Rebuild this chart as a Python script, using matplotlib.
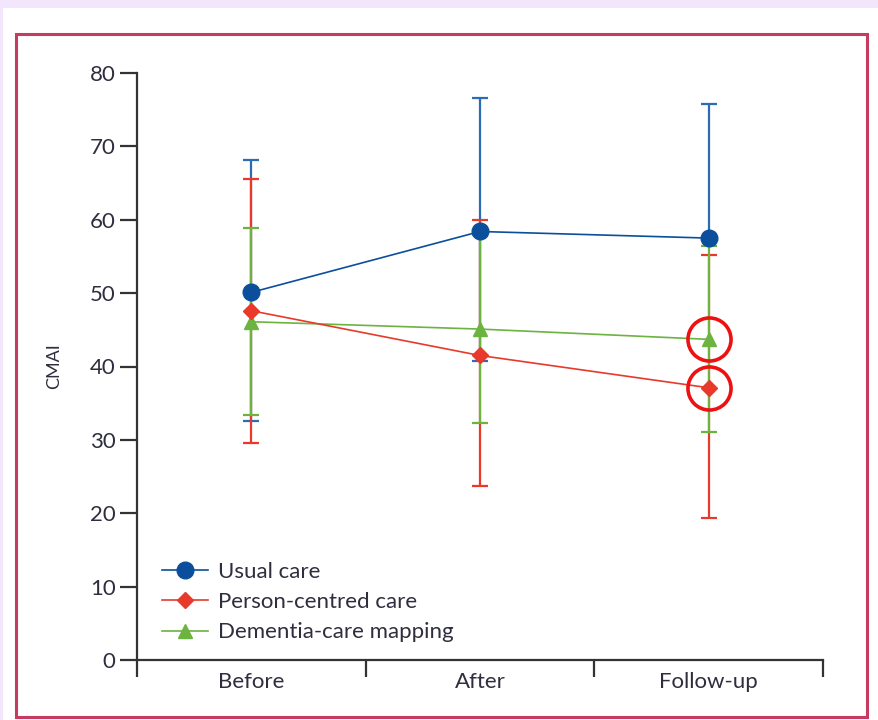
import matplotlib
matplotlib.use("Agg")
import matplotlib.pyplot as plt
from matplotlib.patches import Rectangle

# CMAI scores (mean with error bar ends)
phases = ["Before", "After", "Follow-up"]

usual_mean = [50.1, 58.4, 57.5]
usual_upper = [68.1, 76.6, 75.8]
usual_lower = [32.6, 40.8, 57.5]   # no lower bar visible at follow-up

person_mean = [47.6, 41.5, 37.1]
person_upper = [65.6, 59.9, 55.2]
person_lower = [29.6, 23.7, 19.3]

dcm_mean = [46.1, 45.1, 43.7]
dcm_upper = [58.9, 57.9, 56.4]
dcm_lower = [33.4, 32.3, 31.1]

# points ringed in red at follow-up
ringed = [dcm_mean[2], person_mean[2]]

BLUE = "#0b4f9c"
BLUE_BAR = "#2b6cb3"
RED = "#e8392b"
GREEN = "#6cb33f"
TXT = "#2e2e3e"

plt.rcParams['font.family'] = ['Lato', 'DejaVu Sans']

fig = plt.figure(figsize=(8.79, 7.2), dpi=100, facecolor="#f3e6fc")
fig.patches.append(Rectangle((3 / 879, 0), 1, 712 / 720, transform=fig.transFigure,
                             facecolor="white", edgecolor="none", zorder=-10))
fig.patches.append(Rectangle((16 / 879, 3 / 720), 851 / 879, 683 / 720, transform=fig.transFigure,
                             facecolor="none", edgecolor="#c63b60", linewidth=2.2, zorder=-5))

ax = fig.add_axes([137 / 879, 60 / 720, 686 / 879, 587 / 720])
ax.set_facecolor("none")
ax.set_zorder(2)

x = [0.5, 1.5, 2.5]


def err(mean, lower, upper):
    return [[m - l for m, l in zip(mean, lower)], [u - m for m, u in zip(mean, upper)]]


ax.errorbar(x, usual_mean, yerr=err(usual_mean, usual_lower, usual_upper), fmt="none",
            ecolor=BLUE_BAR, elinewidth=1.6, capsize=6, capthick=1.6, zorder=2)
ax.errorbar(x, person_mean, yerr=err(person_mean, person_lower, person_upper), fmt="none",
            ecolor=RED, elinewidth=1.6, capsize=6, capthick=1.6, zorder=3)
ax.errorbar(x, dcm_mean, yerr=err(dcm_mean, dcm_lower, dcm_upper), fmt="none",
            ecolor=GREEN, elinewidth=1.6, capsize=6, capthick=1.6, zorder=4)

ax.plot(x, dcm_mean, "-^", color=GREEN, lw=1.2, markersize=10, zorder=5,
        label="Dementia-care mapping")
ax.plot(x, person_mean, "-D", color=RED, lw=1.2, markersize=8, zorder=6,
        label="Person-centred care")
ax.plot(x, usual_mean, "-o", color=BLUE, lw=1.2, markersize=12, zorder=7,
        label="Usual care")

ax.plot([x[2]] * len(ringed), ringed, "o", markersize=31, markerfacecolor="none",
        markeredgecolor="#ee1111", markeredgewidth=2.6, zorder=8, clip_on=False)

ax.set_xlim(0, 3)
ax.set_ylim(0, 80)
ax.set_yticks(range(0, 81, 10))
ax.set_xticks([0, 1, 2, 3])
ax.set_xticklabels([])
ax.set_xticks(x, minor=True)
ax.set_xticklabels(phases, minor=True)

for side in ["top", "right"]:
    ax.spines[side].set_visible(False)
for side in ["left", "bottom"]:
    ax.spines[side].set_color("#333333")
    ax.spines[side].set_linewidth(1.6)

ax.tick_params(axis="y", which="major", length=12.5, width=1.6, color="#333333",
               labelsize=16, labelcolor=TXT, pad=3)
ax.tick_params(axis="x", which="major", length=12, width=1.6, color="#333333")
ax.tick_params(axis="x", which="minor", length=0, labelsize=16, labelcolor=TXT, pad=9)

ax.set_ylabel("CMAI", fontsize=13, color=TXT)
ax.yaxis.set_label_coords(-0.109, 0.5)

handles, labels = ax.get_legend_handles_labels()
order = [2, 1, 0]
ax.legend([handles[i] for i in order], [labels[i] for i in order], loc="lower left",
          bbox_to_anchor=(0.036, 0.03), frameon=False, fontsize=16, labelcolor=TXT,
          handlelength=2.1, handletextpad=0.45, labelspacing=0.47, borderaxespad=0,
          borderpad=0)

fig.savefig("out.png", dpi=100, facecolor=fig.get_facecolor())
